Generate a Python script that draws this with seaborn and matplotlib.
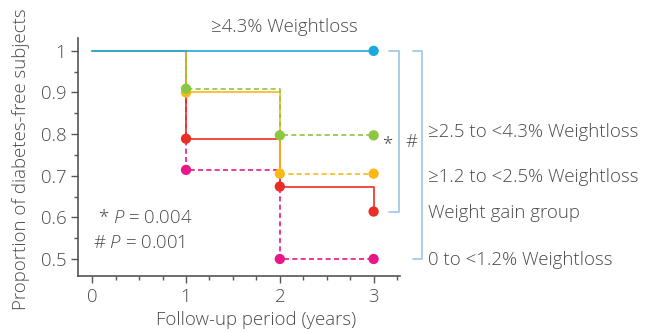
import numpy as np
import pandas as pd
import matplotlib
matplotlib.use('Agg')
import matplotlib.pyplot as plt
from matplotlib.ticker import MultipleLocator, FixedLocator
import seaborn as sns

# follow-up years and proportion of diabetes-free subjects per group
years = [0, 1, 2, 3]
loss_43 = [1.0, 1.0, 1.0, 1.0]
loss_25_43 = [1.0, 0.909, 0.797, 0.797]
loss_12_25 = [1.0, 0.900, 0.705, 0.705]
gain = [1.0, 0.789, 0.674, 0.614]
loss_0_12 = [1.0, 0.714, 0.500, 0.500]

labels = ['≥4.3% Weightloss', '≥2.5 to <4.3% Weightloss', '≥1.2 to <2.5% Weightloss',
          'Weight gain group', '0 to <1.2% Weightloss']
label_y = [1.036, 0.805, 0.697, 0.61, 0.498]
p_texts = ['* $\\mathit{P}$ = 0.004', '# $\\mathit{P}$ = 0.001']

sns.set_style('ticks')
plt.rcParams['font.family'] = ['Open Sans', 'DejaVu Sans']
plt.rcParams['font.weight'] = 'light'
plt.rcParams['axes.labelweight'] = 'light'
plt.rcParams['mathtext.fontset'] = 'custom'
plt.rcParams['mathtext.it'] = 'Open Sans:italic:light'
plt.rcParams['mathtext.rm'] = 'Open Sans:light'
txt = '#4a4a4a'
fs = 13.4

fig = plt.figure(figsize=(6.46, 3.33), dpi=100)
ax = fig.add_axes([0.121, 0.171, 0.498, 0.715])

blue, green, yellow, red, pink = '#1ba8df', '#8dc63f', '#fbb818', '#ec2d26', '#e8188b'

def step(t, vals, color, ls, marks):
    d = pd.DataFrame({'t': t, 'p': vals})
    sns.lineplot(data=d, x='t', y='p', ax=ax, color=color, linestyle=ls,
                 drawstyle='steps-post', estimator=None, sort=False, lw=1.2)
    m = d[d['t'].isin(marks)]
    if len(m):
        sns.scatterplot(data=m, x='t', y='p', ax=ax, color=color, s=55,
                        edgecolor='none', zorder=5, clip_on=False)

step(years, loss_0_12, pink, (0, (3, 2)), [1, 2, 3])
step(years, gain, red, '-', [1, 2, 3])
# yellow: solid until year 2, dashed after
step(years[:3], loss_12_25[:3], yellow, '-', [1])
step(years[2:], loss_12_25[2:], yellow, (0, (3, 2)), [2, 3])
step(years, loss_25_43, green, (0, (3, 2)), [1, 2, 3])
step(years, loss_43, blue, '-', [3])

ax.set_xlim(-0.15, 3.28)
ax.set_ylim(0.459, 1.031)
ax.xaxis.set_major_locator(FixedLocator([0, 1, 2, 3]))
ax.xaxis.set_minor_locator(MultipleLocator(0.25))
ax.yaxis.set_major_locator(FixedLocator([0.5, 0.6, 0.7, 0.8, 0.9, 1.0]))
ax.set_yticklabels(['0.5', '0.6', '0.7', '0.8', '0.9', '1'])
ax.yaxis.set_minor_locator(MultipleLocator(0.05))
ax.tick_params(which='both', colors='#555555', labelcolor=txt, labelsize=fs, width=1)
ax.tick_params(which='major', length=5)
ax.tick_params(which='minor', length=3)
sns.despine(ax=ax)
for s in ['left', 'bottom']:
    ax.spines[s].set_color('#555555')
    ax.spines[s].set_linewidth(1.2)

ax.set_xlabel('Follow-up period (years)', fontsize=fs, color=txt)
ax.set_ylabel('Proportion of diabetes-free subjects', fontsize=fs, color=txt)
ax.xaxis.set_label_coords(0.553, -0.145)
ax.yaxis.set_label_coords(-0.15, 0.49)

ax.text(2.05, label_y[0], labels[0], ha='center', va='bottom', fontsize=fs, color=txt)
for lab, y in zip(labels[1:], label_y[1:]):
    ax.text(3.585, y, lab, ha='left', va='center', fontsize=fs, color=txt, clip_on=False)

ax.text(0.06, 0.598, p_texts[0], fontsize=fs, color=txt, va='center')
ax.text(0.01, 0.538, p_texts[1], fontsize=fs, color=txt, va='center')

br = '#9dc3e6'
ax.plot([3.16, 3.27, 3.27, 3.16], [1.0, 1.0, 0.614, 0.614], color=br, lw=1.2, clip_on=False)
ax.plot([3.415, 3.52, 3.52, 3.415], [1.0, 1.0, 0.50, 0.50], color=br, lw=1.2, clip_on=False)
ax.text(3.145, 0.775, '*', fontsize=fs, color=txt, va='center', ha='center')
ax.text(3.40, 0.78, '#', fontsize=fs, color=txt, va='center', ha='center')

fig.savefig('out.png', dpi=100)
